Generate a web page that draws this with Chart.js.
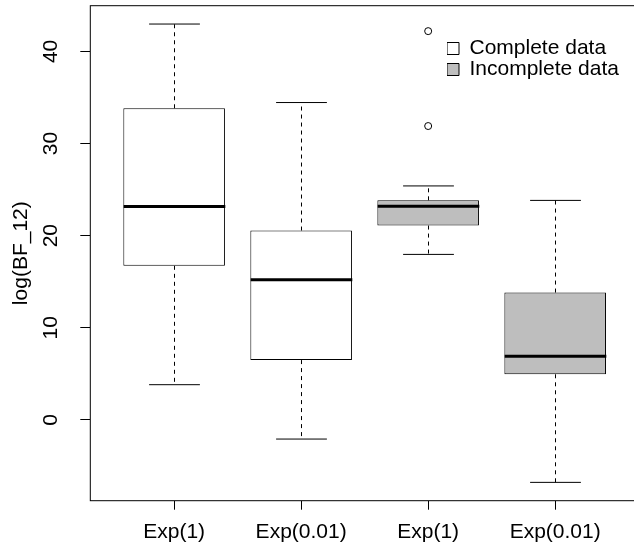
<!DOCTYPE html>
<html>
<head>
<meta charset="utf-8">
<title>log(BF_12) boxplot</title>
<script src="https://cdn.jsdelivr.net/npm/chart.js@4"></script>
<style>
  html, body { margin: 0; padding: 0; background: #fff; overflow: hidden; }
</style>
</head>
<body>
<canvas id="bfChart" width="644" height="543"></canvas>
<script>
const categories  = ['Exp(1)', 'Exp(0.01)', 'Exp(1)', 'Exp(0.01)'];
const whiskerLow  = [3.83, -2.07, 17.97, -6.77];
const lowerQuart  = [16.73, 6.50, 21.10, 4.96];
const medians     = [23.16, 15.23, 23.20, 6.92];
const upperQuart  = [33.83, 20.56, 23.84, 13.83];
const whiskerHigh = [42.97, 34.45, 25.40, 23.83];
const outliers    = [[], [], [42.2, 31.9], []];
const yTicks      = [0, 10, 20, 30, 40];

const groupNames = ['Complete data', 'Incomplete data'];
const groupOf    = [0, 0, 1, 1];
const groupFill  = ['#FFFFFF', '#BEBEBE'];

const FONT = 'Liberation Sans, Arial, Helvetica, sans-serif';

// same ranges R uses for boxplot(): 0.5..n+0.5 and the data range, each padded 4%
const allVals = whiskerLow.concat(whiskerHigh, outliers.flat());
const yLo = Math.min(...allVals), yHi = Math.max(...allVals);
const yPad = (yHi - yLo) * 0.04;
const xPad = categories.length * 0.04;

const boxSets = groupNames.map((name, g) => ({
    type: 'bar',
    label: name,
    data: categories
        .map((c, i) => ({ x: i + 1, y: [lowerQuart[i], upperQuart[i]], g: groupOf[i] }))
        .filter(d => d.g === g),
    backgroundColor: groupFill[g],
    borderColor: '#000',
    borderWidth: 1,
    borderSkipped: false,
    grouped: false,
    barPercentage: 1,
    categoryPercentage: 0.8
}));

const outlierSet = {
    type: 'scatter',
    label: 'outliers',
    data: outliers.flatMap((vals, i) => vals.map(v => ({ x: i + 1, y: v }))),
    pointStyle: 'circle',
    pointRadius: 3.5,
    pointBorderWidth: 1,
    pointBorderColor: '#000',
    pointBackgroundColor: 'rgba(0,0,0,0)'
};

// whiskers, staples and medians, placed with the chart's own scales
const boxParts = {
    id: 'boxParts',
    afterDatasetsDraw(chart) {
        const { ctx, scales: { x, y } } = chart;
        const unit = x.getPixelForValue(1) - x.getPixelForValue(0);
        const seg = (x0, y0, x1, y1) => {
            ctx.beginPath();
            ctx.moveTo(x0, y0);
            ctx.lineTo(x1, y1);
            ctx.stroke();
        };
        ctx.save();
        ctx.strokeStyle = '#000';
        ctx.lineCap = 'butt';
        categories.forEach((c, i) => {
            const cx = Math.round(x.getPixelForValue(i + 1)) + 0.5;
            ctx.lineWidth = 1;
            ctx.setLineDash([4, 4]);
            seg(cx, y.getPixelForValue(upperQuart[i]), cx, y.getPixelForValue(whiskerHigh[i]));
            seg(cx, y.getPixelForValue(lowerQuart[i]), cx, y.getPixelForValue(whiskerLow[i]));
            ctx.setLineDash([]);
            seg(cx - unit * 0.2, y.getPixelForValue(whiskerHigh[i]), cx + unit * 0.2, y.getPixelForValue(whiskerHigh[i]));
            seg(cx - unit * 0.2, y.getPixelForValue(whiskerLow[i]), cx + unit * 0.2, y.getPixelForValue(whiskerLow[i]));
            ctx.lineWidth = 3;
            seg(cx - unit * 0.4, y.getPixelForValue(medians[i]), cx + unit * 0.4, y.getPixelForValue(medians[i]));
        });
        ctx.restore();
    }
};

// the box round the plot region, and the legend moved to the top right corner
const frame = {
    id: 'frame',
    beforeDraw(chart) {
        const lg = chart.legend;
        if (lg) {
            lg.left = 447;
            lg.top = 38;
            lg.right = chart.chartArea.right;
            lg.bottom = chart.chartArea.bottom;
        }
    },
    afterDraw(chart) {
        const { ctx, chartArea: a } = chart;
        ctx.save();
        ctx.strokeStyle = '#000';
        ctx.lineWidth = 1;
        ctx.strokeRect(a.left, a.top, a.right - a.left, a.bottom - a.top);
        ctx.restore();
    }
};

new Chart(document.getElementById('bfChart'), {
    data: { datasets: [...boxSets, outlierSet] },
    options: {
        responsive: false,
        animation: false,
        layout: { padding: { left: 0, top: 5.7, right: 0, bottom: 0 } },
        plugins: {
            legend: {
                position: 'chartArea',
                align: 'start',
                labels: {
                    boxWidth: 12,
                    boxHeight: 12,
                    padding: 0,
                    color: '#000',
                    font: { family: FONT, size: 21 },
                    filter: item => item.datasetIndex < groupNames.length
                }
            },
            tooltip: { enabled: false }
        },
        scales: {
            x: {
                type: 'linear',
                offset: false,
                min: 0.5 - xPad,
                max: categories.length + 0.5 + xPad,
                afterBuildTicks: s => { s.ticks = categories.map((c, i) => ({ value: i + 1 })); },
                afterFit: s => {
                    s.height = 42.3;
                    s.paddingLeft = 0;
                    s.paddingRight = 0;
                },
                grid: { offset: false, drawOnChartArea: false, drawTicks: true, tickLength: 9, tickColor: '#000', tickWidth: 1 },
                border: { display: false },
                ticks: {
                    autoSkip: false,
                    maxRotation: 0,
                    padding: 10,
                    color: '#000',
                    font: { family: FONT, size: 21 },
                    callback: (v, i) => categories[i]
                }
            },
            y: {
                type: 'linear',
                min: yLo - yPad,
                max: yHi + yPad,
                afterBuildTicks: s => { s.ticks = yTicks.map(v => ({ value: v })); },
                afterFit: s => {
                    s.width = 90.3;
                    s.paddingTop = 0;
                    s.paddingBottom = 0;
                },
                grid: { drawOnChartArea: false, drawTicks: true, tickLength: 10, tickColor: '#000', tickWidth: 1 },
                border: { display: false },
                ticks: {
                    minRotation: 90,
                    maxRotation: 90,
                    crossAlign: 'center',
                    padding: 17,
                    color: '#000',
                    font: { family: FONT, size: 21 }
                },
                title: {
                    display: true,
                    text: 'log(BF_12)',
                    color: '#000',
                    font: { family: FONT, size: 21 },
                    padding: { top: 9, bottom: 0 }
                }
            }
        }
    },
    plugins: [boxParts, frame]
});
</script>
</body>
</html>
